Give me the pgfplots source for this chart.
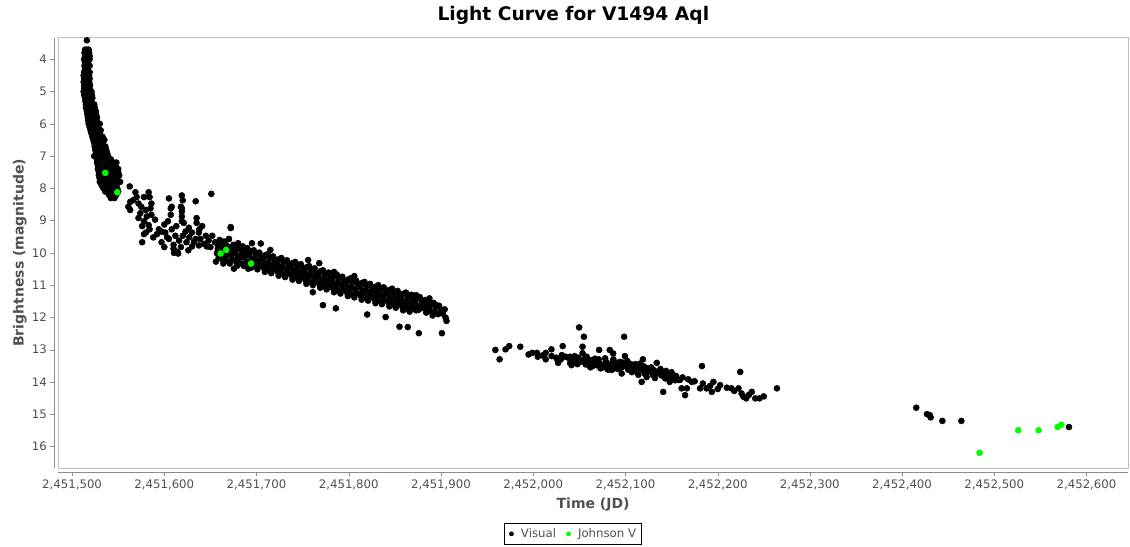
\documentclass[border=0pt]{standalone}
\usepackage{pgfplots}
\pgfplotsset{compat=1.18}
\usepackage{fontspec}
\setmainfont{DejaVu Sans}
\definecolor{jgreen}{RGB}{0,255,0}
\definecolor{outline}{RGB}{190,190,190}
\definecolor{axisgray}{RGB}{140,140,140}
\definecolor{labelgray}{RGB}{80,80,80}

\begin{document}
\begin{tikzpicture}
\useasboundingbox (0,0) rectangle (847.5pt,-409.5pt);
\node[font=\bfseries\fontsize{14}{16}\selectfont] at (430pt,-11.5pt) {Light Curve for V1494 Aql};
\begin{axis}[
    at={(43.7pt,-351pt)}, anchor=south west,
    scale only axis, width=802.3pt, height=322.7pt,
    xmin=-15, xmax=1145, ymin=3.33, ymax=16.67, y dir=reverse,
    xtick={0,100,...,1100},
    xticklabels={{2,451,500},{2,451,600},{2,451,700},{2,451,800},{2,451,900},{2,452,000},
                 {2,452,100},{2,452,200},{2,452,300},{2,452,400},{2,452,500},{2,452,600}},
    ytick={4,5,...,16},
    /pgf/number format/assume math mode=true,
    tick pos=left, tick align=outside, major tick length=3pt,
    axis line style={draw=outline},
    x tick style={axisgray, yshift=-3pt},
    y tick style={axisgray, xshift=-3pt},
    xticklabel style={font=\fontsize{8.8}{10}\selectfont, text=labelgray, yshift=-2pt},
    yticklabel style={font=\fontsize{8.8}{10}\selectfont, text=labelgray, xshift=-2pt},
    xlabel={Time (JD)}, ylabel={Brightness (magnitude)},
    xlabel style={font=\bfseries\fontsize{10.5}{12}\selectfont, text=labelgray, at={(axis description cs:0.5,-0.086)}, anchor=center},
    ylabel style={font=\bfseries\fontsize{10.5}{12}\selectfont, text=labelgray, at={(axis description cs:-0.036,0.5)}, anchor=center, rotate=0},
    clip=false,
    legend columns=2,
    legend style={at={(axis description cs:0.481,-0.153)}, anchor=center, draw=black, line width=0.5pt,
        font=\fontsize{8.8}{10}\selectfont, text=labelgray, inner xsep=2pt, inner ysep=2pt,
        /tikz/every even column/.append style={column sep=4pt}},
    legend image code/.code={\path[draw=none,fill=none] (0cm,0cm) -- (0.3cm,0cm); \fill[#1] (0.12cm,0cm) circle (1.5pt);},
]
% Visual observations (days after JD 2451500, magnitude)
\addplot[only marks, mark=*, mark size=2.25pt, color=black] coordinates {
(16,3.41)
(14,3.7)(16,3.7)(18,3.7)(13.5,3.8)(16.5,3.8)(18.5,3.8)(14,3.9)(17,3.9)(19,3.9)
(13,4.0)(16,4.0)(19,4.0)(14,4.1)(17,4.1)(13.5,4.2)(16.5,4.2)(19,4.2)(14,4.3)(17,4.3)
(13,4.4)(16,4.4)(19,4.4)(12.5,4.5)(15.5,4.5)(18.5,4.5)(13,4.6)(16,4.6)(19,4.6)
(12.5,4.7)(15.5,4.7)(18.5,4.7)(13,4.8)(16,4.8)(19.5,4.8)(13,4.9)(16,4.9)(19,4.9)
(12.5,5.0)(15.5,5.0)(18.5,5.0)(21,5.0)(13,5.1)(16,5.1)(19,5.1)(21.5,5.1)
(14,5.2)(17,5.2)(20,5.2)(22,5.2)(14.5,5.3)(17.5,5.3)(20.5,5.3)
(15,5.4)(18,5.4)(21,5.4)(24,5.4)(15,5.5)(18,5.5)(21,5.5)(24.5,5.5)
(16,5.6)(19,5.6)(22,5.6)(25.5,5.6)(16.5,5.7)(19.5,5.7)(22.5,5.7)(26,5.7)
(17,5.8)(20,5.8)(23,5.8)(27,5.8)(17.5,5.9)(20.5,5.9)(23.5,5.9)(26.5,5.9)
(18,6.0)(21,6.0)(24,6.0)(27,6.0)(30,6.0)(19,6.1)(22,6.1)(25,6.1)(28,6.1)
(20,6.2)(23,6.2)(26,6.2)(29,6.2)(31,6.2)(21,6.3)(24,6.3)(27,6.3)(30,6.3)
(22,6.4)(25,6.4)(28,6.4)(31,6.4)(33,6.4)(23,6.5)(26,6.5)(29,6.5)(32,6.5)(35,6.5)
(24,6.6)(27,6.6)(30,6.6)(33,6.6)(24.5,6.7)(27.5,6.7)(30.5,6.7)(33.5,6.7)(36,6.7)
(25,6.8)(28,6.8)(31,6.8)(34,6.8)(37,6.8)(26,6.9)(29,6.9)(32,6.9)(35,6.9)(38,6.9)
(24,7.0)(27,7.0)(30,7.0)(33,7.0)(36,7.0)(39,7.0)
(27,7.1)(30,7.1)(33,7.1)(36,7.1)(39,7.1)(42,7.1)
(27,7.2)(30,7.2)(33,7.2)(36,7.2)(39,7.2)(42,7.2)(45,7.2)(48,7.2)
(28,7.3)(31,7.3)(34,7.3)(37,7.3)(40,7.3)(43,7.3)(47,7.3)
(28,7.4)(31,7.4)(34,7.4)(37,7.4)(40,7.4)(43,7.4)(46,7.4)(50,7.4)
(29,7.5)(32,7.5)(35,7.5)(38,7.5)(41,7.5)(44,7.5)(47,7.5)(50,7.5)
(29,7.6)(32,7.6)(35,7.6)(38,7.6)(41,7.6)(44,7.6)(48,7.6)(51,7.6)
(30,7.7)(33,7.7)(36,7.7)(39,7.7)(42,7.7)(45,7.7)(49,7.7)
(30,7.8)(33,7.8)(36,7.8)(39,7.8)(42,7.8)(46,7.8)(52,7.8)
(32,7.9)(35,7.9)(38,7.9)(41,7.9)(44,7.9)(48,7.9)
(34,8.0)(37,8.0)(40,8.0)(43,8.0)(46,8.0)(49,8.0)
(36,8.1)(39,8.1)(42,8.1)(45,8.1)(50,8.1)(40,8.2)(44,8.2)(48,8.2)(42,8.3)(46,8.3)
(62.5,7.94)(68.7,8.12)(70,8.27)(83,8.12)(84,8.27)(105,8.31)(119,8.22)(134,8.40)
(61,8.57)(63,8.67)(72,8.47)(75,8.57)(80,8.67)(81,8.87)(86,8.82)(90,8.97)(72,8.92)
(76,9.17)(83,9.14)(80,9.37)(76,9.67)(94,9.27)(101,9.37)(97,9.67)(105,9.57)(110,9.87)
(114,9.97)(108,8.57)(107,8.82)(118,8.57)(119,8.87)(121,9.07)(123,9.34)(130,9.37)
(134,9.57)(137.5,9.77)(135,8.92)(141,9.17)(145,9.47)(152,9.47)(162.5,9.65)(172,9.23)
(170,9.57)(86,8.47)(107,8.62)(119,8.62)(97,9.34)(110,9.75)(110.5,10.0)(130,9.8)
(146,9.8)(137.5,9.37)(126.6,9.22)(66,8.37)(74,8.77)(78,9.02)(84,9.27)(88,9.52)
(92,9.42)(78,9.42)(85,8.62)(100,9.12)(103,9.52)(108,9.27)(112,9.47)(116,9.62)
(120,9.47)(124,9.67)(127,9.52)(132,9.67)(139,9.57)(143,9.72)(148,9.62)(150,9.82)
(155,9.67)(158,9.87)(126,9.92)(118,9.82)(113,9.17)(104,9.02)(120,8.37)(119,8.72)
(119,9.02)(135,9.07)(138,9.27)(151,8.17)(63,8.42)(78,8.27)(100,9.82)(115,10.02)
(160,9.6)(165,9.65)(170,9.57)(175,9.75)(180,9.7)(185,9.8)(190,9.85)
(158,9.75)(160,9.88)(157,10.01)(159,10.14)(156,10.27)
(164,9.82)(162,9.95)(165,10.08)(163,10.21)(164,10.33)
(167,9.76)(169,9.89)(168,10.02)(166,10.15)(170,10.27)
(173,9.81)(175,9.94)(172,10.07)(174,10.20)(171,10.33)
(179,9.89)(177,10.02)(180,10.15)(178,10.28)(179,10.40)
(182,9.83)(184,9.96)(183,10.09)(181,10.22)(185,10.34)
(188,9.88)(190,10.01)(187,10.14)(189,10.27)(186,10.40)
(194,9.95)(192,10.08)(195,10.21)(193,10.34)(194,10.46)
(197,9.92)(199,10.05)(198,10.18)(196,10.31)(200,10.43)
(203,9.99)(205,10.12)(202,10.25)(204,10.38)(201,10.51)
(209,10.08)(207,10.21)(210,10.34)(208,10.47)(209,10.59)
(212,10.04)(214,10.17)(213,10.30)(211,10.43)(215,10.55)
(218,10.11)(220,10.24)(217,10.37)(219,10.50)(216,10.63)
(224,10.20)(222,10.33)(225,10.46)(223,10.59)(224,10.71)
(227,10.16)(229,10.29)(228,10.42)(226,10.55)(230,10.67)
(233,10.23)(235,10.36)(232,10.49)(234,10.62)(231,10.75)
(239,10.32)(237,10.45)(240,10.58)(238,10.71)(239,10.83)
(242,10.28)(244,10.41)(243,10.54)(241,10.67)(245,10.79)
(248,10.35)(250,10.48)(247,10.61)(249,10.74)(246,10.87)
(254,10.45)(252,10.58)(255,10.71)(253,10.84)(254,10.96)
(257,10.41)(259,10.54)(258,10.67)(256,10.80)(260,10.92)
(263,10.48)(265,10.61)(262,10.74)(264,10.87)(261,11.00)
(269,10.57)(267,10.70)(270,10.83)(268,10.96)(269,11.08)
(272,10.54)(274,10.67)(273,10.80)(271,10.93)(275,11.05)
(278,10.61)(280,10.74)(277,10.87)(279,11.00)(276,11.13)
(284,10.71)(282,10.84)(285,10.97)(283,11.10)(284,11.22)
(287,10.67)(289,10.80)(288,10.93)(286,11.06)(290,11.18)
(293,10.74)(295,10.87)(292,11.00)(294,11.13)(291,11.26)
(299,10.83)(297,10.96)(300,11.09)(298,11.22)(299,11.34)
(302,10.79)(304,10.92)(303,11.05)(301,11.18)(305,11.30)
(308,10.86)(310,10.99)(307,11.12)(309,11.25)(306,11.38)
(314,10.94)(312,11.07)(315,11.20)(313,11.33)(314,11.45)
(317,10.90)(319,11.03)(318,11.16)(316,11.29)(320,11.41)
(323,10.96)(325,11.09)(322,11.22)(324,11.35)(321,11.48)
(329,11.05)(327,11.18)(330,11.31)(328,11.44)(329,11.56)
(332,11.00)(334,11.13)(333,11.26)(331,11.39)(335,11.51)
(338,11.07)(340,11.20)(337,11.33)(339,11.46)(336,11.59)
(344,11.15)(342,11.28)(345,11.41)(343,11.54)(344,11.66)
(347,11.11)(349,11.24)(348,11.37)(346,11.50)(350,11.62)
(353,11.18)(355,11.31)(352,11.44)(354,11.57)(351,11.70)
(359,11.27)(357,11.40)(360,11.53)(358,11.66)(359,11.78)
(362,11.23)(364,11.36)(363,11.49)(361,11.62)(365,11.74)
(368,11.30)(370,11.43)(367,11.56)(369,11.69)(366,11.82)
(374,11.39)(372,11.52)(375,11.65)(373,11.78)
(377,11.37)(379,11.50)(378,11.63)(376,11.76)
(383,11.46)(385,11.59)(382,11.72)(384,11.85)
(389,11.57)(387,11.70)(390,11.83)
(392,11.55)(394,11.68)(393,11.81)(391,11.94)
(398,11.64)(400,11.77)(397,11.90)
(404,11.75)(402,11.88)(405,12.01)
(172,9.20)(175.5,10.49)(191,10.49)(261,11.22)(272,11.62)(286,11.72)(320,11.91)
(340,11.99)(355,12.29)(364,12.30)(376,12.49)(401,12.49)(406,12.11)(395,11.62)
(387.5,11.41)(367.6,11.31)(306,10.72)(380,11.52)(373,11.31)
(215,9.91)(204.6,9.71)(195,9.70)(256,10.22)(268,10.32)(284,10.59)(333,11.18)(347.6,11.18)
(459,13.01)(463.6,13.30)(470,12.99)(474,12.89)(486,12.91)(499,13.10)(504,13.10)
(513.6,13.10)(513.6,13.30)(519.8,12.99)(526,13.30)(527,13.41)(532,12.89)(531,13.17)
(540,13.22)(541.5,13.48)(549.8,12.31)(555,12.60)(553.5,12.91)(553.5,13.11)(554,13.38)
(561,13.48)(568.7,13.48)(571.5,13.01)(577.7,13.53)(583,13.01)(586.7,13.12)(585,13.63)
(590,13.43)(598.6,12.60)(599.5,13.20)(596,13.74)(605,13.63)(616,13.43)(617.6,14.00)
(619,13.30)(624.8,13.69)(630,13.79)(634,13.41)(637.5,13.74)(641,14.31)(643,13.89)
(648,14.00)(652,13.79)(659,13.94)(664.7,14.41)(661,14.20)(666.6,14.20)(672,14.00)
(683,13.51)(681,14.20)(688,14.20)(693.7,14.31)(695.4,14.00)(702.7,14.10)(715,14.20)
(724.5,13.69)(722.6,14.20)(726,14.36)(728,14.46)(737,14.31)(740.8,14.51)(745.4,14.51)
(731,14.51)(764.3,14.20)
(538,13.25)(540,13.42)(543,13.33)(546,13.28)(548,13.45)(551,13.36)(555,13.30)
(557,13.46)(560,13.38)(563,13.33)(565,13.50)(568,13.40)(571,13.30)(574,13.46)
(576,13.55)(579,13.38)(582,13.50)(585,13.42)(588,13.58)(591,13.48)(594,13.38)
(596,13.55)(600,13.50)(603,13.62)(606,13.45)(609,13.56)(612,13.68)(615,13.52)
(618,13.62)(621,13.74)(624,13.58)(627,13.68)(630,13.62)(633,13.74)(636,13.66)
(639,13.80)(642,13.72)(645,13.84)(648,13.76)(651,13.88)(655,13.82)(658,13.94)
(520,13.20)(525,13.25)(530,13.30)(535,13.22)(545,13.20)(510,13.18)(505,13.22)(495,13.15)
(544,13.38)(549,13.25)(558,13.22)(562,13.55)(567,13.28)(573,13.58)(578,13.27)
(581,13.62)(587,13.30)(592,13.60)(597,13.40)(602,13.35)(607,13.70)(611,13.45)
(614,13.78)(620,13.52)(623,13.85)(628,13.55)(632,13.88)(638,13.60)(644,13.66)
(650,13.70)(654,13.95)(662,13.86)(668,13.92)(675,13.98)(684,14.05)(692,14.12)
(700,14.22)(710,14.18)(718,14.28)(734,14.40)(750,14.45)
(915.4,14.80)(927,15.00)(930,15.03)(931,15.10)(943.7,15.21)(964.3,15.21)(1081,15.40)
};
\addlegendentry{Visual}
% Johnson V observations
\addplot[only marks, mark=*, mark size=2.25pt, color=jgreen] coordinates {
(36,7.52)(49,8.12)(161,10.02)(167,9.91)(194,10.33)
(984,16.20)(1026,15.50)(1048,15.50)(1068.6,15.40)(1072.6,15.33)
};
\addlegendentry{Johnson V}
\draw[axisgray] ([yshift=-3pt]rel axis cs:0,0) -- ([yshift=-3pt]rel axis cs:1,0);
\draw[axisgray] ([xshift=-3pt]rel axis cs:0,0) -- ([xshift=-3pt]rel axis cs:0,1);
\end{axis}
\end{tikzpicture}
\end{document}
